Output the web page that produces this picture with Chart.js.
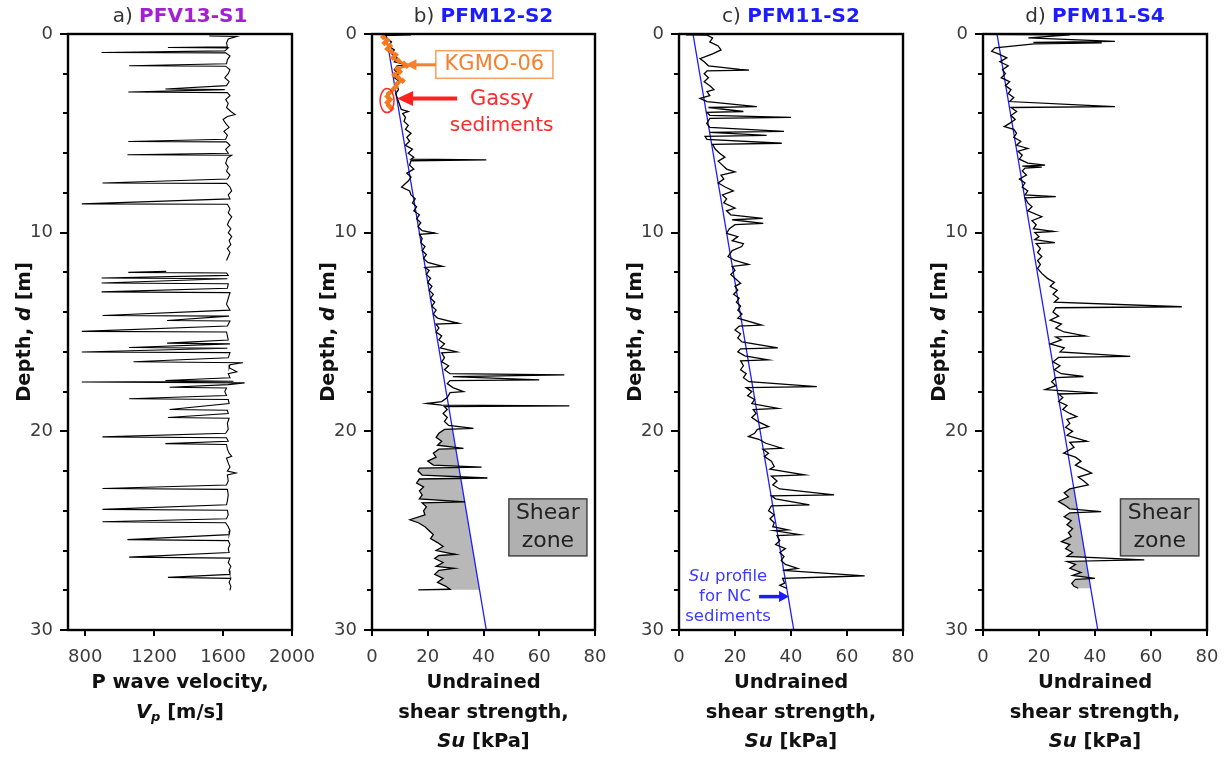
<!DOCTYPE html>
<html>
<head>
<meta charset="utf-8">
<script src="https://cdn.jsdelivr.net/npm/chart.js@4.4.1/dist/chart.umd.min.js"></script>
<style>
	html, body { margin: 0; padding: 0; background: #fff; width: 1227px; height: 760px; overflow: hidden; }
	canvas { position: absolute; top: 0; }
</style>
</head>
<body>
<canvas id="panelA" width="320" height="760" style="left:0px"></canvas>
<canvas id="panelB" width="320" height="760" style="left:304px"></canvas>
<canvas id="panelC" width="320" height="760" style="left:611px"></canvas>
<canvas id="panelD" width="312" height="760" style="left:915px"></canvas>
<script>
// axis ticks
const depthTicks = [0, 2, 4, 6, 8, 10, 12, 14, 16, 18, 20, 22, 24, 26, 28, 30];
const vpTicks = [800, 1200, 1600, 2000];
const suTicks = [0, 20, 40, 60, 80];

// Su profile for NC sediments [depth m, Su kPa]
const ncLine = [[0, 5], [30, 41]];

// a) PFV13-S1, [depth m, Vp m/s]; null = no data
const vpProfile = [
	[0.10, 1520], [0.12, 1680], [0.25, 1630], [0.45, 1620], [0.65, 1625], [0.68, 1280], [0.70, 1630], [0.85, 1610],
	[0.93, 895], [0.95, 1615], [1.1, 1640], [1.3, 1625], [1.5, 1620], [1.6, 1055], [1.62, 1615], [1.8, 1640],
	[2.0, 1630], [2.2, 1610], [2.4, 1635], [2.6, 1620], [2.77, 1265], [2.8, 1610], [2.92, 1050], [2.95, 1625],
	[3.1, 1640], [3.3, 1615], [3.5, 1630], [3.7, 1620], [3.9, 1645], [4.05, 1670], [4.15, 1625], [4.3, 1600],
	[4.5, 1615], [4.7, 1635], [4.9, 1605], [5.1, 1625], [5.3, 1615], [5.41, 1050], [5.43, 1620], [5.6, 1640],
	[5.8, 1615], [6.0, 1630], [6.08, 1045], [6.1, 1650], [6.25, 1625], [6.5, 1615], [6.7, 1630], [6.9, 1620],
	[7.1, 1640], [7.3, 1625], [7.5, 900], [7.52, 1620], [7.7, 1640], [7.9, 1650], [8.1, 1630], [8.3, 1640],
	[8.55, 780], [8.57, 1625], [8.8, 1640], [9.0, 1630], [9.2, 1650], [9.4, 1635], [9.6, 1625], [9.8, 1645],
	[10.0, 1630], [10.2, 1650], [10.4, 1635], [10.6, 1645], [10.8, 1625], [11.0, 1640], [11.2, 1630], [11.4, 1620],
	null,
	[11.95, 1270], [12.0, 1050], [12.03, 1620], [12.15, 1630], [12.28, 895], [12.32, 1625], [12.53, 895], [12.57, 1630],
	[12.8, 1625], [12.98, 895], [13.02, 1640], [13.3, 1630], [13.6, 1620], [13.9, 1640], [14.17, 900], [14.2, 1635],
	[14.42, 1275], [14.45, 1640], [14.7, 1625], [14.97, 780], [15.0, 1620], [15.2, 1625], [15.4, 1630], [15.56, 1275],
	[15.6, 1640], [15.78, 1055], [15.82, 1625], [16.01, 780], [16.04, 1640], [16.3, 1630], [16.5, 1080], [16.55, 1715],
	[16.65, 1640], [16.8, 1635], [17.0, 1680], [17.1, 1630], [17.3, 1640], [17.44, 1265], [17.48, 1660], [17.52, 780],
	[17.56, 1725], [17.65, 1630], [17.78, 1290], [17.82, 1620], [18.0, 1610], [18.2, 1620], [18.36, 1055], [18.4, 1630],
	[18.6, 1635], [18.9, 1290], [18.94, 1625], [19.1, 1630], [19.3, 1280], [19.34, 1635], [19.6, 1625], [19.9, 1630],
	[20.1, 1615], [20.28, 900], [20.32, 1620], [20.5, 1630], [20.62, 1265], [20.66, 1620], [20.9, 1625], [21.1, 1635],
	[21.25, 1650], [21.35, 1620], [21.6, 1630], [21.8, 1640], [22.0, 1625], [22.1, 1675], [22.2, 1625], [22.5, 1630],
	[22.7, 1620], [22.88, 900], [22.92, 1625], [23.2, 1630], [23.5, 1625], [23.7, 1620], [23.93, 900], [23.97, 1625],
	[24.2, 1630], [24.4, 1620], [24.55, 900], [24.6, 1615], [24.8, 1630], [25.0, 1640], [25.2, 1635], [25.45, 1045],
	[25.5, 1630], [25.7, 1640], [25.9, 1630], [26.1, 1635], [26.33, 1055], [26.38, 1640], [26.6, 1630], [26.8, 1645],
	[27.0, 1635], [27.2, 1640], [27.35, 1280], [27.4, 1645], [27.6, 1635], [27.8, 1645], [28.0, 1640]
];

// b) PFM12-S2, [depth m, Su kPa]
const suPFM12S2 = [
	[0.02, 0.5], [0.04, 14], [0.08, 4], [0.25, 5.5], [0.4, 7], [0.6, 6], [0.8, 8], [1.0, 7], [1.2, 9], [1.4, 8],
	[1.55, 13], [1.6, 9], [1.8, 8], [2.0, 9.5], [2.2, 8], [2.4, 10], [2.6, 9], [2.8, 9.5], [3.0, 8.5], [3.2, 9],
	[3.4, 9.5], [3.6, 10], [3.8, 10.5], [3.9, 13], [4.0, 11], [4.2, 12], [4.4, 11.5], [4.6, 13], [4.8, 12], [5.0, 14],
	[5.2, 12.5], [5.4, 13.5], [5.6, 12], [5.8, 14.5], [6.0, 13], [6.2, 15], [6.3, 14], [6.34, 41], [6.38, 14], [6.6, 13.5],
	[6.8, 15], [7.0, 12.5], [7.2, 14], [7.4, 13], [7.7, 10.6], [7.9, 13.5], [8.1, 14], [8.3, 15.5], [8.5, 14.5], [8.7, 16],
	[8.9, 15], [9.1, 17], [9.3, 16], [9.5, 17.5], [9.7, 16.5], [9.9, 18], [10.03, 22.6], [10.08, 17], [10.3, 18], [10.5, 17.5],
	[10.7, 19], [10.9, 18], [11.1, 19.5], [11.3, 18.5], [11.5, 20], [11.7, 25.3], [11.75, 19], [11.9, 20.5], [12.1, 19.5], [12.3, 21],
	[12.5, 20], [12.7, 21.5], [12.9, 20.5], [13.1, 22], [13.3, 21], [13.5, 22.5], [13.7, 21.5], [13.9, 23], [14.1, 22], [14.3, 23.5],
	[14.56, 31], [14.6, 23], [14.8, 24], [15.0, 23], [15.2, 25], [15.4, 24], [15.6, 26], [15.8, 24.5], [16.0, 30.4], [16.05, 25],
	[16.3, 26], [16.5, 25], [16.7, 27.5], [16.9, 26], [17.1, 28], [17.16, 69], [17.25, 29], [17.41, 60], [17.45, 28], [17.6, 27],
	[17.8, 29], [18.0, 32.8], [18.05, 28], [18.3, 27], [18.5, 25], [18.6, 19.6], [18.68, 25], [18.72, 70.8], [18.76, 26], [18.9, 27],
	[19.1, 25.5], [19.3, 27], [19.5, 26], [19.7, 27.5], [19.85, 36.4], [19.9, 26], [20.1, 24], [20.3, 23], [20.5, 25], [20.7, 23.5],
	[20.86, 32.8], [20.9, 24], [21.1, 22], [21.3, 23], [21.5, 20], [21.7, 22], [21.8, 39.3], [21.85, 17], [22.0, 16.5], [22.2, 18],
	[22.35, 41.4], [22.4, 17], [22.6, 16], [22.8, 18.5], [23.0, 17], [23.2, 18], [23.4, 17], [23.55, 33.4], [23.6, 18], [23.8, 19.5],
	[24.0, 18.5], [24.2, 19], [24.45, 13.6], [24.6, 16.6], [24.8, 19], [25.0, 20.5], [25.2, 22], [25.4, 21], [25.6, 23.5], [25.8, 25.5],
	[26.0, 23], [26.2, 30], [26.25, 24], [26.4, 22.5], [26.6, 25.5], [26.8, 23], [26.9, 29.5], [27.0, 24], [27.2, 22.5], [27.4, 25.5],
	[27.6, 23.5], [27.8, 26.5], [27.95, 28], [27.98, 16.6]
];

// b) KGMO-06 reference data, [depth m, Su kPa]
const suKGMO06 = [
	[0.15, 4], [0.3, 5.5], [0.45, 4.5], [0.6, 6.5], [0.75, 5.5], [0.9, 7], [1.05, 8.5], [1.2, 7.5], [1.35, 9.5], [1.5, 11.5],
	[1.6, 12.5], [1.75, 9], [1.9, 10], [2.05, 8], [2.2, 9.5], [2.35, 11], [2.5, 9], [2.65, 8.5], [2.8, 7.5], [3.0, 6],
	[3.15, 5.5], [3.3, 6.5], [3.45, 5.5], [3.6, 6], [3.75, 7]
];

// c) PFM11-S2, [depth m, Su kPa]
const suPFM11S2 = [
	[0.04, 2.5], [0.06, 10], [0.2, 12], [0.4, 11], [0.6, 14], [0.8, 15], [1.0, 12], [1.24, 7.5], [1.4, 9], [1.6, 10.5],
	[1.78, 21.8], [1.82, 25], [1.86, 10], [2.0, 9], [2.2, 10.5], [2.4, 9], [2.6, 11], [2.8, 12.5], [2.9, 10], [3.1, 11],
	[3.24, 7.5], [3.4, 10], [3.66, 27.8], [3.7, 10.5], [3.9, 23], [3.94, 10], [4.1, 11], [4.2, 40], [4.25, 11], [4.5, 9.9],
	[4.7, 11], [4.9, 37.5], [4.95, 11], [5.1, 31.3], [5.15, 9.3], [5.3, 10], [5.5, 36.7], [5.55, 12], [5.8, 13], [6.0, 14.5],
	[6.2, 16.4], [6.4, 14], [6.6, 15.5], [6.8, 17], [6.94, 20], [7.1, 15], [7.3, 16], [7.5, 14], [7.7, 16.5], [7.9, 19.4],
	[8.1, 15.5], [8.3, 17], [8.5, 16], [8.77, 20], [8.9, 17], [9.1, 18.5], [9.28, 29.9], [9.35, 19], [9.53, 30.1], [9.6, 20],
	[9.8, 18], [10.03, 17], [10.2, 21], [10.4, 19], [10.55, 23], [10.7, 22.4], [10.9, 19], [11.2, 17.5], [11.4, 20], [11.6, 24.8],
	[11.7, 19], [11.9, 20], [12.1, 18.5], [12.3, 20], [12.55, 22], [12.7, 20], [12.9, 21], [13.1, 19.5], [13.3, 21.5], [13.5, 20.5],
	[13.7, 22], [13.9, 21], [14.1, 22.5], [14.3, 21], [14.65, 29.5], [14.7, 21.5], [14.9, 20], [15.1, 22], [15.3, 21], [15.5, 22.5],
	[15.8, 35.3], [15.85, 22], [16.0, 21], [16.2, 23.5], [16.4, 31.8], [16.45, 22], [16.7, 23], [16.9, 22], [17.1, 24], [17.3, 23],
	[17.5, 25], [17.75, 49.2], [17.8, 24], [18.0, 26], [18.2, 24.5], [18.4, 27], [18.6, 26], [18.84, 35.3], [18.9, 26.5], [19.1, 27.5],
	[19.3, 26], [19.5, 28], [19.76, 32], [19.9, 28], [20.1, 27], [20.26, 24.8], [20.4, 28.5], [20.6, 31], [20.85, 36.7], [20.9, 30],
	[21.1, 32], [21.27, 30.5], [21.5, 33], [21.77, 34], [21.9, 32.5], [22.19, 44.8], [22.25, 33], [22.5, 35], [22.7, 33.5], [22.9, 36],
	[23.2, 55.4], [23.25, 33], [23.4, 34.5], [23.7, 46.6], [23.75, 33], [24.0, 32], [24.2, 34], [24.4, 32.5], [24.6, 34], [24.8, 33.5],
	[24.96, 38.9], [25.0, 34], [25.2, 43], [25.25, 35], [25.5, 36], [25.7, 34.5], [25.9, 38], [26.1, 36], [26.3, 37.5], [26.5, 36.5],
	[26.7, 38], [26.9, 42.4], [27.0, 37], [27.28, 66.3], [27.32, 56], [27.4, 37], [27.64, 37.7], [27.75, 36], [27.9, 38.5]
];

// d) PFM11-S4, [depth m, Su kPa]
const suPFM11S4 = [
	[0.02, 0], [0.04, 31], [0.2, 16.2], [0.37, 47.1], [0.42, 18], [0.45, 42.4], [0.5, 18.3], [0.7, 4.3], [0.87, 3.1], [1.0, 5.5],
	[1.2, 8.5], [1.4, 6], [1.6, 9], [1.8, 7], [2.0, 8], [2.2, 6.5], [2.4, 9.5], [2.6, 8], [2.8, 10], [3.0, 9],
	[3.2, 11], [3.4, 9.5], [3.62, 41.2], [3.66, 47.1], [3.7, 10], [3.9, 12], [4.1, 10], [4.3, 11.5], [4.5, 9.5], [4.66, 7.6],
	[4.8, 11], [5.0, 12], [5.2, 11], [5.4, 13.5], [5.6, 12], [5.76, 16], [5.9, 12.5], [6.1, 14], [6.3, 13], [6.5, 16],
	[6.6, 22.2], [6.65, 14], [6.7, 21], [6.75, 15], [6.9, 14], [7.1, 15.5], [7.3, 13], [7.5, 15], [7.7, 14], [7.9, 16],
	[8.1, 15], [8.19, 26], [8.25, 15], [8.5, 16], [8.7, 17.5], [8.9, 16], [9.2, 21], [9.4, 17.5], [9.6, 19], [9.8, 18],
	[9.94, 25.2], [10.0, 18.5], [10.2, 20], [10.35, 18.5], [10.5, 25.7], [10.55, 19], [10.8, 20.5], [11.0, 19.5], [11.2, 21], [11.4, 19.5],
	[11.6, 20.5], [11.8, 19.5], [12.05, 21], [12.3, 23], [12.5, 25.5], [12.7, 24], [12.9, 26.5], [13.1, 25], [13.3, 27], [13.5, 25.5],
	[13.73, 71], [13.78, 26], [14.0, 25], [14.2, 27], [14.4, 24], [14.6, 28], [14.8, 26], [15.0, 29], [15.2, 36.5], [15.25, 26],
	[15.4, 28], [15.6, 24], [15.8, 29], [16.0, 27.5], [16.23, 52.6], [16.28, 27], [16.5, 25], [16.7, 27.5], [16.9, 25.5], [17.1, 28],
	[17.24, 35.9], [17.3, 26], [17.5, 24.5], [17.7, 26], [17.9, 22.2], [18.08, 41], [18.12, 27], [18.3, 28.5], [18.5, 27], [18.7, 30],
	[18.9, 28.5], [19.1, 31], [19.26, 33.5], [19.4, 30], [19.6, 31], [19.8, 29.5], [20.0, 32], [20.2, 30], [20.5, 37.1], [20.55, 31],
	[20.8, 32.5], [21.1, 28.8], [21.3, 33], [21.5, 35], [21.7, 33], [21.9, 36], [22.1, 38.8], [22.3, 34], [22.5, 36], [22.7, 37.6],
	[22.9, 31], [23.1, 29], [23.3, 30.5], [23.53, 27], [23.7, 29], [23.9, 31], [24.04, 42.2], [24.1, 31], [24.3, 29], [24.5, 31.5],
	[24.7, 30], [24.9, 32], [25.1, 30.5], [25.3, 31.5], [25.55, 28], [25.7, 31], [25.9, 29.5], [26.1, 32], [26.3, 30], [26.47, 57.6],
	[26.5, 47.1], [26.55, 30], [26.7, 33], [26.9, 31], [27.1, 35], [27.25, 32], [27.4, 40], [27.45, 33], [27.65, 31.7], [27.8, 32.5],
	[27.9, 34]
];

const FONT = '"DejaVu Sans", sans-serif';
const BLUE = "#1c1cff";

function toPoints(rows) {
	return rows.map(r => r ? { x: r[1], y: r[0] } : { x: null, y: null });
}

function traceSet(rows, width) {
	return { data: toPoints(rows), showLine: true, borderColor: "#000", borderWidth: width, pointRadius: 0, spanGaps: false, tension: 0 };
}

function ncSet() {
	return { data: toPoints(ncLine), showLine: true, borderColor: BLUE, borderWidth: 1.3, pointRadius: 0 };
}

function richText(ctx, parts, x, y) {
	let total = 0;
	parts.forEach(p => { ctx.font = p.font; p.w = ctx.measureText(p.t).width; total += p.w; });
	let cx = x - total / 2;
	ctx.textAlign = "left";
	ctx.textBaseline = "middle";
	parts.forEach(p => {
		ctx.font = p.font;
		ctx.fillStyle = p.color;
		ctx.fillText(p.t, cx, y + (p.dy || 0));
		cx += p.w;
	});
}

function arrow(ctx, x1, x2, y, color, lw, headLen, headW) {
	const dir = Math.sign(x2 - x1);
	ctx.strokeStyle = color;
	ctx.fillStyle = color;
	ctx.lineWidth = lw;
	ctx.beginPath();
	ctx.moveTo(x1, y);
	ctx.lineTo(x2 - dir * headLen * 0.8, y);
	ctx.stroke();
	ctx.beginPath();
	ctx.moveTo(x2, y);
	ctx.lineTo(x2 - dir * headLen, y - headW / 2);
	ctx.lineTo(x2 - dir * headLen, y + headW / 2);
	ctx.closePath();
	ctx.fill();
}

function shearBox(ctx, xs, ys) {
	const x1 = xs.getPixelForValue(49.1), x2 = xs.getPixelForValue(77.1);
	const y1 = ys.getPixelForValue(23.4), y2 = ys.getPixelForValue(26.27);
	ctx.fillStyle = "#b0b0b0";
	ctx.fillRect(x1, y1, x2 - x1, y2 - y1);
	ctx.strokeStyle = "#444";
	ctx.lineWidth = 1.5;
	ctx.strokeRect(x1, y1, x2 - x1, y2 - y1);
	const cx = (x1 + x2) / 2;
	richText(ctx, [{ t: "Shear", font: "22px " + FONT, color: "#222" }], cx, ys.getPixelForValue(24.15));
	richText(ctx, [{ t: "zone", font: "22px " + FONT, color: "#222" }], cx, ys.getPixelForValue(25.55));
}

function panelPlugin(cfg) {
	return {
		id: "panel" + cfg.letter,
		beforeDatasetsDraw(chart) {
			if (!cfg.zone) return;
			const ctx = chart.ctx, a = chart.chartArea, xs = chart.scales.x, ys = chart.scales.y;
			const pts = cfg.zone.rows.filter(r => r && r[0] >= cfg.zone.from && r[0] <= cfg.zone.to);
			ctx.save();
			// keep only the part left of the NC line
			ctx.beginPath();
			ctx.moveTo(xs.getPixelForValue(ncLine[0][1]), ys.getPixelForValue(ncLine[0][0]));
			ctx.lineTo(xs.getPixelForValue(ncLine[1][1]), ys.getPixelForValue(ncLine[1][0]));
			ctx.lineTo(a.left, a.bottom);
			ctx.lineTo(a.left, a.top);
			ctx.closePath();
			ctx.clip();
			ctx.beginPath();
			pts.forEach((r, i) => {
				const px = xs.getPixelForValue(r[1]), py = ys.getPixelForValue(r[0]);
				if (i === 0) ctx.moveTo(px, py); else ctx.lineTo(px, py);
			});
			ctx.lineTo(a.right, ys.getPixelForValue(pts[pts.length - 1][0]));
			ctx.lineTo(a.right, ys.getPixelForValue(pts[0][0]));
			ctx.closePath();
			ctx.fillStyle = "#b8b8b8";
			ctx.fill();
			ctx.restore();
		},
		afterDatasetsDraw(chart) {
			const ctx = chart.ctx, a = chart.chartArea, xs = chart.scales.x, ys = chart.scales.y;
			ctx.save();
			// tick marks
			ctx.strokeStyle = "#000";
			ctx.lineWidth = 2;
			ctx.beginPath();
			depthTicks.forEach(v => {
				const py = Math.round(ys.getPixelForValue(v));
				ctx.moveTo(a.left - (v % 10 === 0 ? 8 : 5), py);
				ctx.lineTo(a.left, py);
			});
			xs.ticks.forEach(t => {
				const px = Math.round(xs.getPixelForValue(t.value));
				ctx.moveTo(px, a.bottom);
				ctx.lineTo(px, a.bottom + 6);
			});
			ctx.stroke();
			// frame
			ctx.lineWidth = 2.4;
			ctx.strokeRect(a.left, a.top, a.right - a.left, a.bottom - a.top);

			if (cfg.letter === "b") {
				// KGMO-06 label
				const bx1 = xs.getPixelForValue(22.9), bx2 = xs.getPixelForValue(64.9);
				const by1 = ys.getPixelForValue(0.84), by2 = ys.getPixelForValue(2.23);
				ctx.fillStyle = "#fff";
				ctx.fillRect(bx1, by1, bx2 - bx1, by2 - by1);
				ctx.strokeStyle = "#f7a060";
				ctx.lineWidth = 1.5;
				ctx.strokeRect(bx1, by1, bx2 - bx1, by2 - by1);
				richText(ctx, [{ t: "KGMO-06", font: "21px " + FONT, color: "#f5802e" }], (bx1 + bx2) / 2, ys.getPixelForValue(1.55));
				arrow(ctx, bx1, xs.getPixelForValue(12), ys.getPixelForValue(1.55), "#f5802e", 3, 11, 11);
				// gassy sediments
				ctx.strokeStyle = "#ff2a2a";
				ctx.lineWidth = 1.5;
				ctx.beginPath();
				ctx.ellipse(xs.getPixelForValue(5.4), ys.getPixelForValue(3.35), 7, 12, 0, 0, Math.PI * 2);
				ctx.stroke();
				arrow(ctx, xs.getPixelForValue(30.5), xs.getPixelForValue(9), ys.getPixelForValue(3.25), "#ff2020", 4, 16, 15);
				richText(ctx, [{ t: "Gassy", font: "21px " + FONT, color: "#ff2a2a" }], xs.getPixelForValue(46.5), ys.getPixelForValue(3.3));
				richText(ctx, [{ t: "sediments", font: "20px " + FONT, color: "#ff2a2a" }], xs.getPixelForValue(46.5), ys.getPixelForValue(4.6));
			}
			if (cfg.letter === "c") {
				const c = "#3a3aff", f = "16.5px " + FONT;
				const cx = xs.getPixelForValue(17.5);
				richText(ctx, [{ t: "Su", font: "italic " + f, color: c }, { t: " profile", font: f, color: c }], cx, ys.getPixelForValue(27.3));
				richText(ctx, [{ t: "for NC", font: f, color: c }], cx - 3, ys.getPixelForValue(28.32));
				richText(ctx, [{ t: "sediments", font: f, color: c }], cx, ys.getPixelForValue(29.33));
				arrow(ctx, xs.getPixelForValue(28.6), xs.getPixelForValue(39.3), ys.getPixelForValue(28.32), BLUE, 3.5, 10, 11);
			}
			if (cfg.zone) shearBox(ctx, xs, ys);
			ctx.restore();
		},
		afterDraw(chart) {
			const ctx = chart.ctx, a = chart.chartArea;
			const cx = (a.left + a.right) / 2;
			ctx.save();
			richText(ctx, [
				{ t: cfg.letter + ") ", font: "20px " + FONT, color: "#333" },
				{ t: cfg.name, font: "bold 20px " + FONT, color: cfg.nameColor }
			], cx, 17);
			const bf = "bold 19.5px " + FONT, ink = "#111";
			cfg.xTitle.forEach((line, i) => {
				richText(ctx, line.map(p => Object.assign({ color: ink }, p, { font: p.font || bf })), cx, 683 + i * 29.5);
			});
			ctx.translate(a.left - 43, (a.top + a.bottom) / 2);
			ctx.rotate(-Math.PI / 2);
			richText(ctx, [
				{ t: "Depth, ", font: bf, color: ink },
				{ t: "d", font: "italic " + bf, color: ink },
				{ t: " [m]", font: bf, color: ink }
			], 0, 0);
			ctx.restore();
		}
	};
}

function makePanel(id, cfg) {
	new Chart(document.getElementById(id), {
		type: "scatter",
		data: { datasets: cfg.datasets },
		options: {
			responsive: false,
			animation: false,
			events: [],
			layout: { padding: { top: 34, left: 0, right: cfg.padRight, bottom: 0 } },
			plugins: { legend: { display: false }, tooltip: { enabled: false } },
			scales: {
				x: {
					type: "linear",
					min: cfg.xMin,
					max: cfg.xMax,
					afterBuildTicks: s => { s.ticks = cfg.xTicks.map(v => ({ value: v })); },
					afterFit: s => { s.height = 130; s.paddingLeft = 0; s.paddingRight = 0; },
					grid: { display: false, drawTicks: false },
					border: { display: false },
					ticks: {
						font: { family: FONT, size: 18 },
						color: "#3c3c3c",
						padding: 17,
						maxRotation: 0,
						autoSkip: false,
						callback: v => String(v)
					}
				},
				y: {
					type: "linear",
					reverse: true,
					min: 0,
					max: 30,
					afterBuildTicks: s => { s.ticks = depthTicks.map(v => ({ value: v })); },
					afterFit: s => { s.width = 68; s.paddingTop = 0; s.paddingBottom = 0; },
					grid: { display: false, drawTicks: false },
					border: { display: false },
					ticks: {
						font: { family: FONT, size: 18 },
						color: "#3c3c3c",
						padding: 15,
						autoSkip: false,
						callback: v => (v % 10 === 0 ? String(v) : "")
					}
				}
			}
		},
		plugins: [panelPlugin(cfg)]
	});
}

const suTitle = [
	[{ t: "Undrained" }],
	[{ t: "shear strength," }],
	[{ t: "Su", font: "italic bold 19.5px " + FONT }, { t: " [kPa]" }]
];

// canvas width 320 (312 for d): plot right edge = width - padRight
makePanel("panelA", {
	letter: "a", name: "PFV13-S1", nameColor: "#a21fd2", padRight: 28,
	xMin: 700, xMax: 2000, xTicks: vpTicks,
	xTitle: [
		[{ t: "P wave velocity," }],
		[{ t: "V", font: "italic bold 19.5px " + FONT }, { t: "p", font: "italic bold 13px " + FONT, dy: 5 }, { t: " [m/s]" }]
	],
	datasets: [traceSet(vpProfile, 1.1)]
});

makePanel("panelB", {
	letter: "b", name: "PFM12-S2", nameColor: BLUE, padRight: 29,
	xMin: 0, xMax: 80, xTicks: suTicks, xTitle: suTitle,
	zone: { rows: suPFM12S2, from: 19.9, to: 28 },
	datasets: [
		{
			data: toPoints(suKGMO06), showLine: true, borderColor: "#f57a1e", borderWidth: 2.5,
			pointStyle: "rectRot", pointRadius: 3.2, pointBackgroundColor: "#f57a1e", pointBorderColor: "#f57a1e", pointBorderWidth: 0
		},
		traceSet(suPFM12S2, 1.3),
		ncSet()
	]
});

makePanel("panelC", {
	letter: "c", name: "PFM11-S2", nameColor: BLUE, padRight: 28,
	xMin: 0, xMax: 80, xTicks: suTicks, xTitle: suTitle,
	datasets: [traceSet(suPFM11S2, 1.3), ncSet()]
});

makePanel("panelD", {
	letter: "d", name: "PFM11-S4", nameColor: BLUE, padRight: 20,
	xMin: 0, xMax: 80, xTicks: suTicks, xTitle: suTitle,
	zone: { rows: suPFM11S4, from: 22.9, to: 28 },
	datasets: [traceSet(suPFM11S4, 1.3), ncSet()]
});
</script>
</body>
</html>
